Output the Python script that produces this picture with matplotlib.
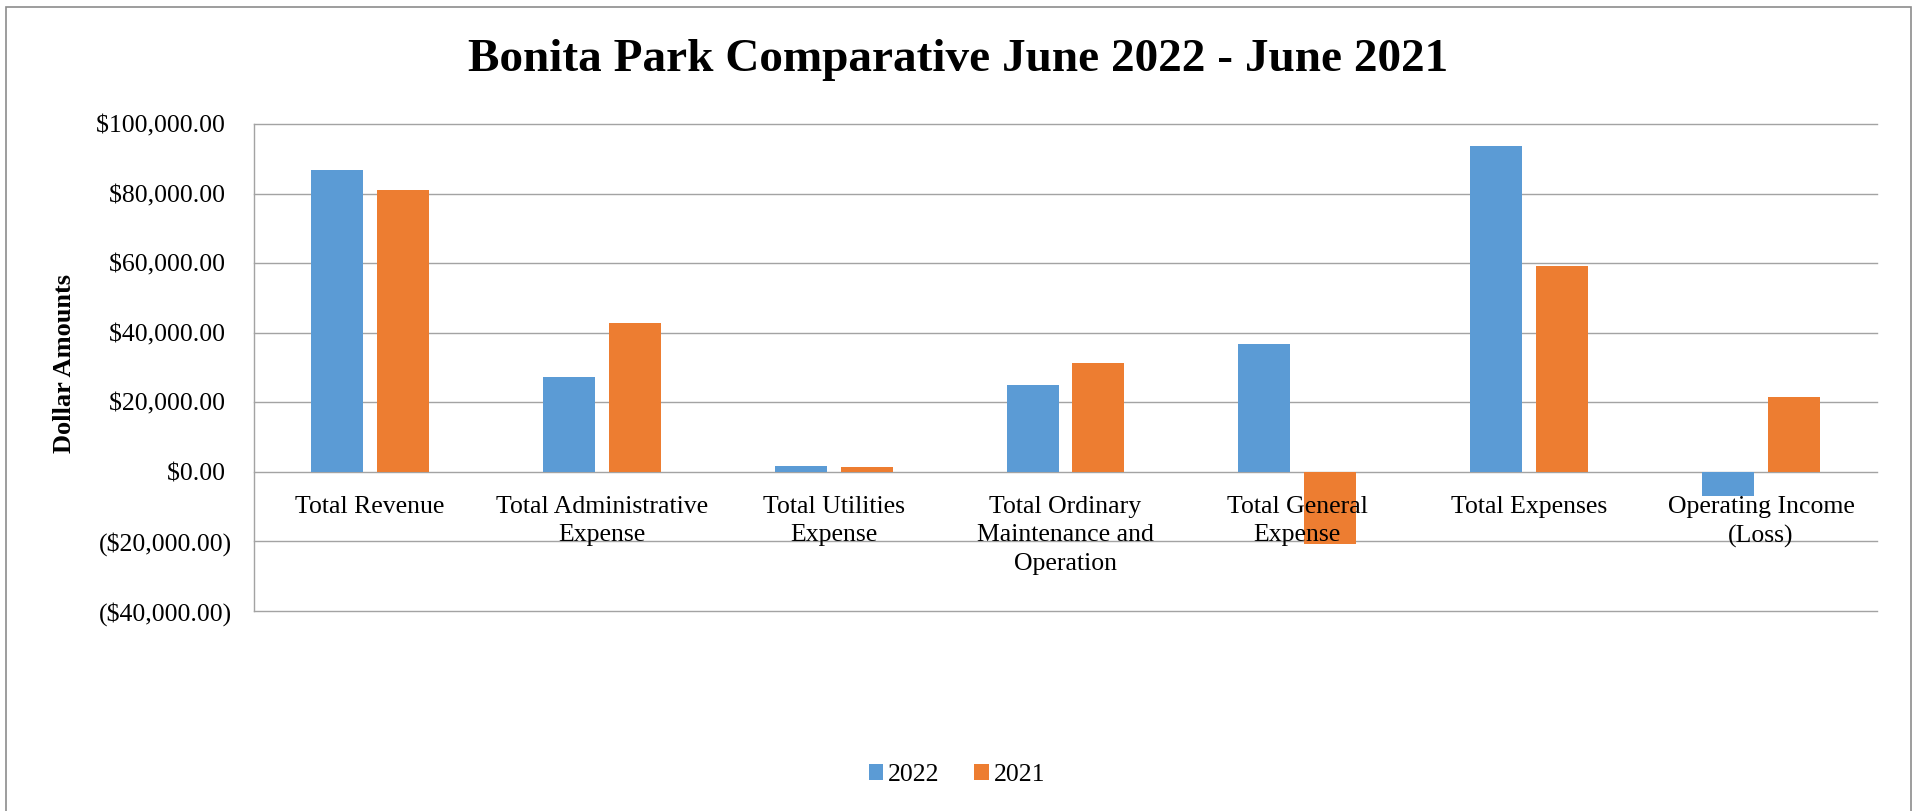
import matplotlib
matplotlib.use('Agg')
import matplotlib.pyplot as plt
import matplotlib.transforms as mtransforms
from matplotlib.patches import Rectangle
from matplotlib.ticker import FuncFormatter

# ---- data ----
categories = ["Total Revenue", "Total Administrative\nExpense", "Total Utilities\nExpense",
              "Total Ordinary\nMaintenance and\nOperation", "Total General\nExpense",
              "Total Expenses", "Operating Income\n(Loss)"]
vals_2022 = [86870, 27390, 1610, 24890, 36670, 93760, -6850]
vals_2021 = [81060, 42900, 1440, 31410, -20800, 59370, 21600]
series_names = ["2022", "2021"]
y_ticks = [-40000, -20000, 0, 20000, 40000, 60000, 80000, 100000]

BLUE = '#5B9BD5'
ORANGE = '#ED7D31'
GRID = '#a3a3a3'
W, H, DPI = 1917, 811, 100

plt.rcParams['font.family'] = ['Liberation Serif', 'DejaVu Serif']

fig = plt.figure(figsize=(W / DPI, H / DPI), dpi=DPI)
ax = fig.add_axes([254 / W, 1 - 611 / H, (1877 - 254) / W, (611 - 124.3) / H])

bw = 0.224
off = 0.142
x = range(len(categories))
ax.bar([i - off for i in x], vals_2022, bw, color=BLUE, label=series_names[0], zorder=2)
ax.bar([i + off for i in x], vals_2021, bw, color=ORANGE, label=series_names[1], zorder=2)

ax.set_xlim(-0.5, len(categories) - 0.5)
ax.set_ylim(-40000, 100000)
ax.set_yticks(y_ticks)


def money(v, _pos):
    if v < 0:
        return f"(${-v:,.2f})"
    return f"${v:,.2f} "


ax.yaxis.set_major_formatter(FuncFormatter(money))
ax.tick_params(axis='y', length=0, pad=16, labelsize=18.5)
ax.set_xticks([])
ax.yaxis.grid(True, color=GRID, lw=1.0)
for gl in ax.get_ygridlines():
    gl.set_clip_on(False)
ax.set_axisbelow(True)
for s in ['top', 'right', 'bottom']:
    ax.spines[s].set_visible(False)
ax.spines['left'].set_color(GRID)
ax.spines['left'].set_linewidth(1.0)

# category labels hang just under the zero line, on top of the bars
lbl_tr = mtransforms.offset_copy(ax.transData, fig=fig, y=-24, units='dots')
for i, name in enumerate(categories):
    ax.text(i, 0, name, transform=lbl_tr, ha='center', va='top', fontsize=18.5,
            linespacing=1.38, zorder=5)

ax.set_ylabel("Dollar Amounts", fontsize=19, fontweight='bold')
ax.yaxis.set_label_coords((76 - 254) / (1877 - 254), (611 - 363.5) / (611 - 124.3))

fig.text(0.5, 1 - 71 / H, "Bonita Park Comparative June 2022 - June 2021",
         ha='center', va='baseline', fontsize=34, fontweight='bold')

fig.legend(loc='center', bbox_to_anchor=(957 / W, 1 - 775 / H), ncol=2, frameon=False,
           fontsize=18.5, handlelength=0.56, handleheight=0.56, handletextpad=0.2,
           columnspacing=1.36)

# outer chart border
fig.patches.append(Rectangle((6 / W, -0.01), (1911 - 6) / W, 1.01 - 7 / H,
                             transform=fig.transFigure, fill=False,
                             edgecolor='#8c8c8c', lw=1.2))

fig.savefig('out.png', dpi=DPI)
